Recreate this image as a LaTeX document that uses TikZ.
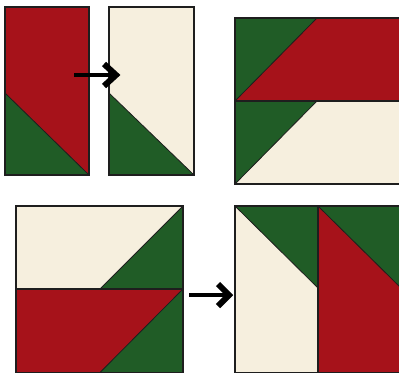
\documentclass[tikz,border=0pt]{standalone}
\definecolor{qred}{RGB}{166,18,26}
\definecolor{qgreen}{RGB}{32,92,38}
\definecolor{qcream}{RGB}{246,239,222}
\definecolor{qedge}{RGB}{30,30,30}
\tikzset{
  edge/.style={draw=qedge, line width=1.3pt},
  seam/.style={draw=qedge, line width=0.8pt},
  shaft/.style={line width=4.6pt, black},
  chevron/.style={line width=6pt, black, miter limit=10, line join=miter}
}
\begin{document}
\begin{tikzpicture}[x=1pt,y=-1pt]
\useasboundingbox (0,0) rectangle (399,373);
% top-left rectangle
\fill[qred] (5,7) rectangle (89,175);
\fill[qgreen] (5,93) -- (89,175) -- (5,175) -- cycle;
\draw[seam] (5,93) -- (89,175);
\draw[edge] (5,7) rectangle (89,175);
% second rectangle
\fill[qcream] (109,7) rectangle (194,175);
\fill[qgreen] (109,93) -- (194,175) -- (109,175) -- cycle;
\draw[seam] (109,93) -- (194,175);
\draw[edge] (109,7) rectangle (194,175);
% top arrow
\coordinate (a1) at (74,75);
\coordinate (a2) at (116,75);
\draw[shaft] (a1) -- (a2);
\draw[chevron] (104,64) -- (a2) -- (104,86);
% top-right block
\fill[qred] (235,18) rectangle (402,101);
\fill[qcream] (235,101) rectangle (402,184);
\fill[qgreen] (235,18) -- (317,18) -- (235,101) -- cycle;
\fill[qgreen] (235,101) -- (317,101) -- (235,184) -- cycle;
\draw[seam] (317,18) -- (235,101);
\draw[seam] (317,101) -- (235,184);
\draw[edge] (235,101) -- (402,101);
\draw[edge] (235,18) rectangle (402,184);
% bottom-left block
\fill[qcream] (16,206) rectangle (183,289);
\fill[qred] (16,289) rectangle (183,372.5);
\fill[qgreen] (183,206) -- (183,289) -- (100,289) -- cycle;
\fill[qgreen] (183,289) -- (183,372.5) -- (100,372.5) -- cycle;
\draw[seam] (183,206) -- (100,289);
\draw[seam] (183,289) -- (100,372.5);
\draw[edge] (16,289) -- (183,289);
\draw[edge] (16,206) rectangle (183,372.5);
% bottom-right block
\fill[qcream] (235,206) rectangle (318,372.5);
\fill[qred] (318,206) rectangle (402,372.5);
\fill[qgreen] (235,206) -- (318,206) -- (318,288) -- cycle;
\fill[qgreen] (318,206) -- (401,206) -- (401,288) -- cycle;
\draw[seam] (235,206) -- (318,288);
\draw[seam] (318,206) -- (401,288);
\draw[edge] (318,206) -- (318,372.5);
\draw[edge] (235,206) rectangle (402,372.5);
% bottom arrow
\coordinate (b1) at (189,295);
\coordinate (b2) at (229,295);
\draw[shaft] (b1) -- (b2);
\draw[chevron] (218,284) -- (b2) -- (218,306);
\end{tikzpicture}
\end{document}
